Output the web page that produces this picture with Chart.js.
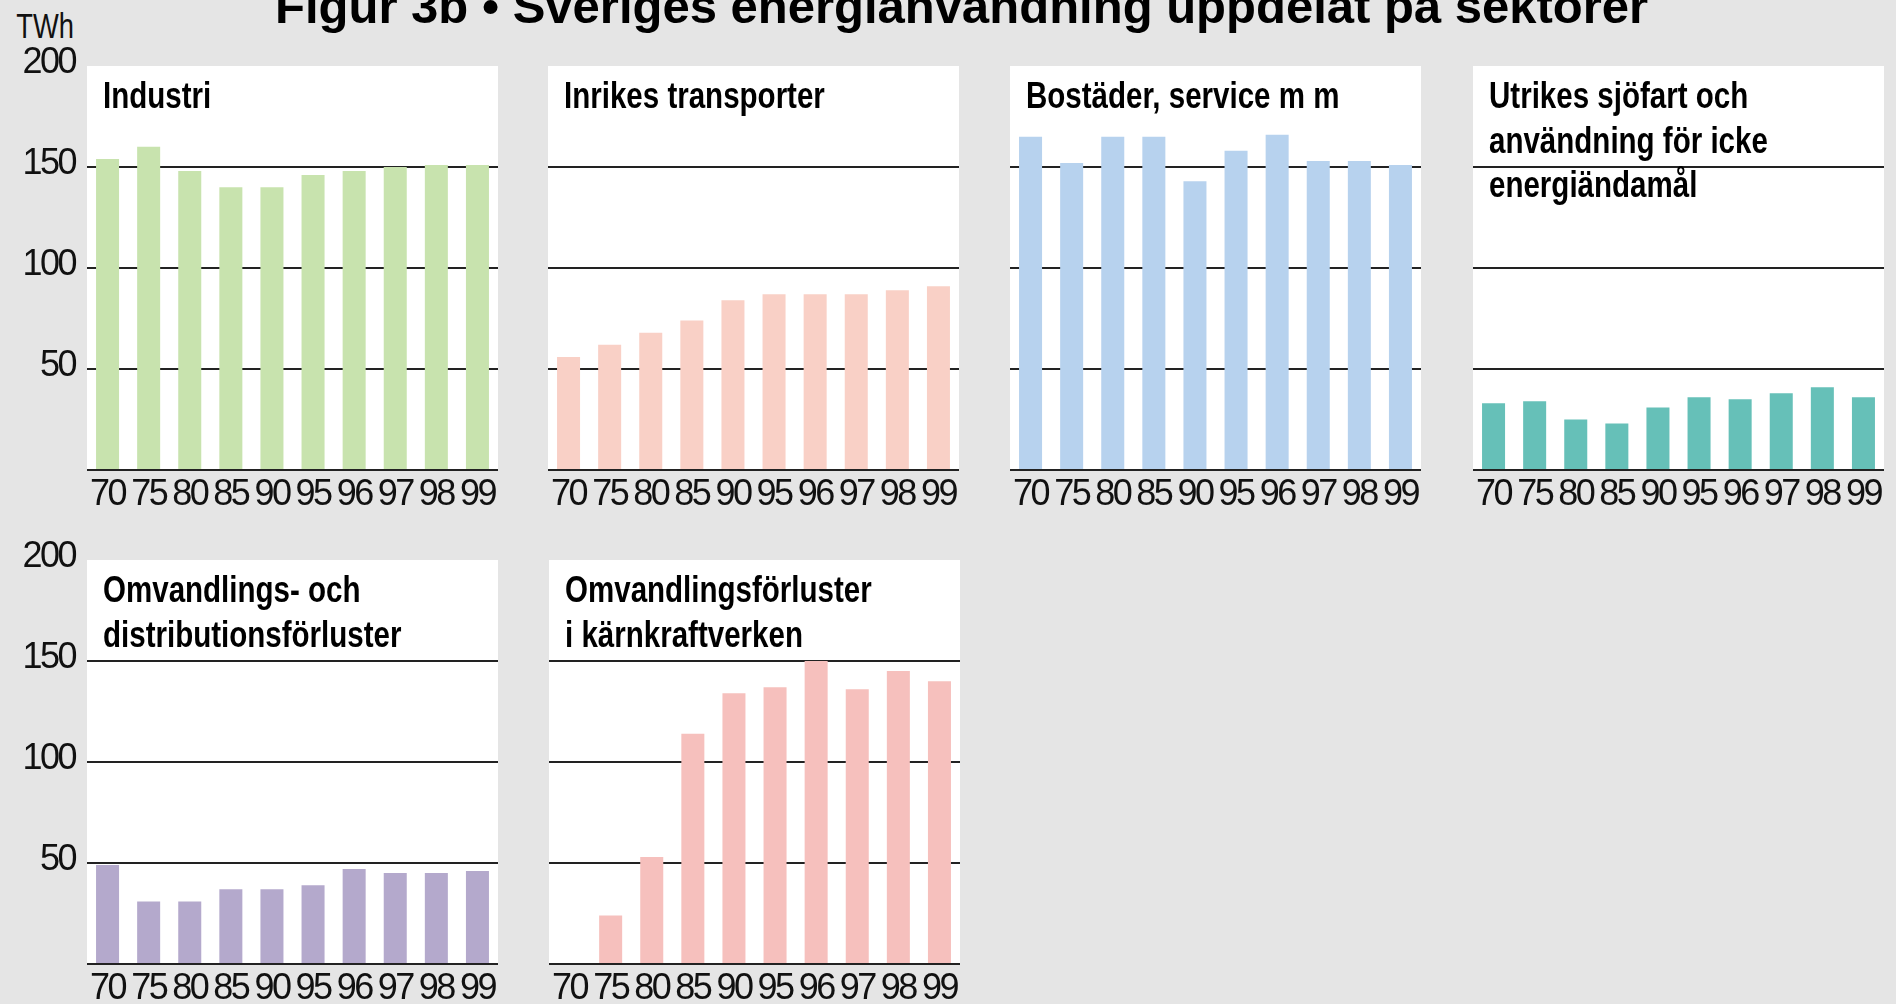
<!DOCTYPE html>
<html lang="sv">
<head>
<meta charset="utf-8">
<title>Figur 3b</title>
<script src="https://cdn.jsdelivr.net/npm/chart.js@4.4.1/dist/chart.umd.min.js"></script>
<style>
  html, body { margin: 0; padding: 0; }
  body {
    width: 1896px; height: 1004px; overflow: hidden;
    position: relative; background: #e5e5e5;
  }
  .rubrik {
    position: absolute; left: 275px; top: -18px;
    font: bold 49px/49px "Liberation Sans", Arial, sans-serif;
    color: #000; white-space: nowrap;
  }
  .enhet {
    position: absolute; left: 0; top: 8px; width: 74px; text-align: right;
    font: 35px/35px "Liberation Sans", Arial, sans-serif;
    color: #111;
  }
  .enhet span { display: inline-block; transform: scaleX(0.78); transform-origin: right center; }
  canvas { position: absolute; }
</style>
</head>
<body>
<div class="rubrik">Figur 3b • Sveriges energianvändning uppdelat på sektorer</div>
<div class="enhet"><span>TWh</span></div>
<canvas id="c1" width="502" height="514"></canvas>
<canvas id="c2" width="502" height="514"></canvas>
<canvas id="c3" width="502" height="514"></canvas>
<canvas id="c4" width="502" height="514"></canvas>
<canvas id="c5" width="502" height="514"></canvas>
<canvas id="c6" width="502" height="514"></canvas>

<script>
// data (TWh)
const years = ['70', '75', '80', '85', '90', '95', '96', '97', '98', '99'];
const industri = [154, 160, 148, 140, 140, 146, 148, 150, 151, 151];
const transporter = [56, 62, 68, 74, 84, 87, 87, 87, 89, 91];
const bostader = [165, 152, 165, 165, 143, 158, 166, 153, 153, 151];
const utrikes = [33, 34, 25, 23, 31, 36, 35, 38, 41, 36];
const distribution = [49, 31, 31, 37, 37, 39, 47, 45, 45, 46];
const karnkraft = [0, 24, 53, 114, 134, 137, 150, 136, 145, 140];
const yMax = 200;
const yStep = 50;

const panels = [
    { id: 'c1', title: ['Industri'], data: industri, color: '#c8e3ae', left: 87, top: 66, axis: true },
    { id: 'c2', title: ['Inrikes transporter'], data: transporter, color: '#f9d0c6', left: 548, top: 66, axis: false },
    { id: 'c3', title: ['Bostäder, service m m'], data: bostader, color: '#b7d2ee', left: 1010, top: 66, axis: false },
    { id: 'c4', title: ['Utrikes sjöfart och', 'användning för icke', 'energiändamål'], data: utrikes, color: '#66c0b8', left: 1473, top: 66, axis: false },
    { id: 'c5', title: ['Omvandlings- och', 'distributionsförluster'], data: distribution, color: '#b4a9cc', left: 87, top: 560, axis: true },
    { id: 'c6', title: ['Omvandlingsförluster', 'i kärnkraftverken'], data: karnkraft, color: '#f6c0bd', left: 549, top: 560, axis: false }
];

const family = '"Liberation Sans", Arial, sans-serif';

// vit bakgrund i ritytan + tätare siffror (smal stil som i originalet)
const panelBg = {
    id: 'panelBg',
    beforeDraw(chart) {
        const a = chart.chartArea;
        const ctx = chart.ctx;
        ctx.letterSpacing = '-2.5px';
        ctx.save();
        ctx.fillStyle = '#ffffff';
        ctx.fillRect(a.left, a.top, a.right - a.left, a.bottom - a.top);
        ctx.restore();
    }
};

// rubrik inne i varje panel
const panelTitle = {
    id: 'panelTitle',
    afterDraw(chart, args, opts) {
        const a = chart.chartArea;
        const ctx = chart.ctx;
        ctx.save();
        ctx.letterSpacing = '0px';
        ctx.fillStyle = '#000';
        ctx.font = 'bold 36px ' + family;
        ctx.textBaseline = 'alphabetic';
        ctx.textAlign = 'left';
        opts.lines.forEach((t, i) => {
            ctx.save();
            ctx.translate(a.left + 16, a.top + 42 + i * 44.5);
            ctx.scale(0.82, 1);
            ctx.fillText(t, 0, 0);
            ctx.restore();
        });
        ctx.restore();
    }
};

panels.forEach((p) => {
    const canvas = document.getElementById(p.id);
    canvas.style.left = (p.left - 87) + 'px';
    canvas.style.top = (p.top - 66) + 'px';

    new Chart(canvas.getContext('2d'), {
        type: 'bar',
        data: {
            labels: years,
            datasets: [{
                data: p.data,
                backgroundColor: p.color,
                borderWidth: 0,
                categoryPercentage: 1,
                barPercentage: 0.56
            }]
        },
        options: {
            responsive: false,
            animation: false,
            events: [],
            layout: { padding: { top: 66, right: 4, left: 0, bottom: 0 } },
            scales: {
                x: {
                    grid: { display: false, drawTicks: false },
                    border: { display: false },
                    ticks: {
                        color: '#111',
                        font: { family: family, size: 36 },
                        padding: 3,
                        autoSkip: false,
                        maxRotation: 0
                    },
                    afterFit(scale) { scale.height = 44; }
                },
                y: {
                    min: 0,
                    max: yMax,
                    border: { display: false },
                    grid: {
                        drawTicks: false,
                        lineWidth: 2,
                        color: (c) => (c.tick && c.tick.value === yMax) ? 'rgba(0,0,0,0)' : '#222'
                    },
                    ticks: {
                        display: p.axis,
                        stepSize: yStep,
                        color: '#111',
                        font: { family: family, size: 36 },
                        padding: 12,
                        labelOffset: -3,
                        callback: (v) => v === 0 ? '' : v
                    },
                    afterFit(scale) { scale.width = 87; }
                }
            },
            plugins: {
                legend: { display: false },
                tooltip: { enabled: false },
                panelTitle: { lines: p.title }
            }
        },
        plugins: [panelBg, panelTitle]
    });
});
</script>
</body>
</html>
